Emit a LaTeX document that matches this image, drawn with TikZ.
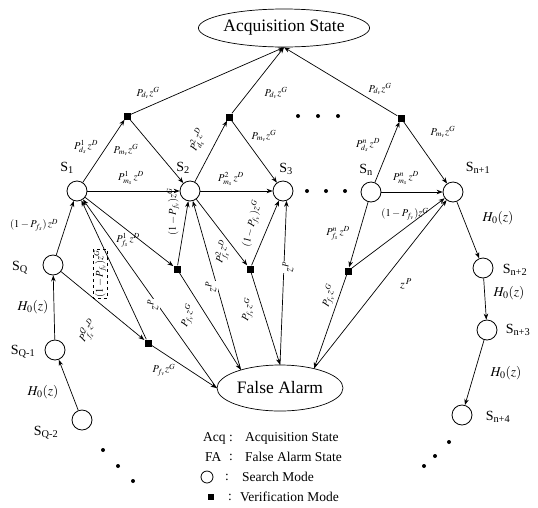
\documentclass[tikz,border=0pt]{standalone}
\usepackage{mathptmx}
\usepackage{fontspec}
\setmainfont{Liberation Serif}
\usetikzlibrary{arrows.meta,shapes.geometric}
\tikzset{
  st/.style={circle,draw,minimum size=20pt,inner sep=0pt,line width=0.8pt},
  vbox/.style={rectangle,fill=black,minimum size=7pt,inner sep=0pt},
  arr/.style={-{Stealth[length=6pt,width=4.5pt]},line width=0.7pt},
  lab/.style={font=\fontsize{10.5}{12}\selectfont,inner sep=1pt},
  wlab/.style={font=\fontsize{12}{13}\selectfont,inner sep=1pt,fill=white},
  slab/.style={font=\fontsize{14}{16}\selectfont,inner sep=0pt},
  hlab/.style={font=\fontsize{13.5}{16}\selectfont,inner sep=0pt},
  bigdot/.style={circle,fill=black,minimum size=4pt,inner sep=0pt},
  leg/.style={font=\fontsize{13.5}{15}\selectfont,anchor=west,inner sep=0pt},
  bigell/.style={ellipse,draw,line width=0.7pt,inner sep=0pt,font=\fontsize{17.5}{20}\selectfont},
}
\begin{document}
\begin{tikzpicture}[x=1pt,y={(0pt,-1pt)}]
\useasboundingbox (0,0) rectangle (538,507);
% big states
\node[bigell,minimum width=168pt,minimum height=38pt] (acq) at (284,28) {Acquisition State};
\node[bigell,minimum width=126pt,minimum height=46pt] (fa) at (280,388) {False Alarm};
% search states
\node[st] (S1) at (77,191) {};
\node[st] (S2) at (190,191) {};
\node[st] (S3) at (283,191) {};
\node[st] (Sn) at (371,192) {};
\node[st] (Sn1) at (453,192) {};
\node[st] (Sn2) at (483,268) {};
\node[st] (Sn3) at (487,330) {};
\node[st] (Sn4) at (462,415) {};
\node[st] (SQ) at (53,265) {};
\node[st] (SQ1) at (55,350) {};
\node[st] (SQ2) at (82,420) {};
% verification states
\node[vbox] (V1) at (127,116) {};
\node[vbox] (V2) at (229,117) {};
\node[vbox] (Vn) at (401,118) {};
\node[vbox] (A) at (177,269) {};
\node[vbox] (B) at (250,269) {};
\node[vbox] (C) at (348,271) {};
\node[vbox] (Q) at (148,343) {};
% state labels
\node[slab] (lS1) at (67,168) {S\textsubscript{1}};
\node[slab] (lS2) at (183,168) {S\textsubscript{2}};
\node[slab] (lS3) at (286,169) {S\textsubscript{3}};
\node[slab] (lSn) at (366,170) {S\textsubscript{n}};
\node[slab] (lSn1) at (478,168) {S\textsubscript{n+1}};
\node[slab] (lSn2) at (515,270) {S\textsubscript{n+2}};
\node[slab] (lSn3) at (518,330) {S\textsubscript{n+3}};
\node[slab] (lSn4) at (498,417) {S\textsubscript{n+4}};
\node[slab] (lSQ) at (20,268) {S\textsubscript{Q}};
\node[slab] (lSQ1) at (23,352) {S\textsubscript{Q-1}};
\node[slab] (lSQ2) at (46,433) {S\textsubscript{Q-2}};
% dots
\foreach \x/\y [count=\i] in {298/116,318/116,338/116,307/191,326/191,345/191,103/450,118/466,133/481,449/442,435/456,424/466}
  \node[bigdot] (d\i) at (\x,\y) {};
% edges
\draw[arr] (S1) -- (V1);
\draw[arr] (V1) -- (S2);
\draw[arr] (V1) -- (acq.south);
\draw[arr] (S1) -- (S2);
\draw[arr] (S2) -- (V2);
\draw[arr] (V2) -- (S3);
\draw[arr] (V2) -- (acq.south);
\draw[arr] (S2) -- (S3);
\draw[arr] (Sn) -- (Vn);
\draw[arr] (Vn) -- (Sn1);
\draw[arr] (Vn) -- (acq.south);
\draw[arr] (Sn) -- (Sn1);
\draw[arr] (Sn1) -- (Sn2);
\draw[arr] (Sn2) -- (Sn3);
\draw[arr] (Sn3) -- (Sn4);
\draw[arr] (SQ2) -- (SQ1);
\draw[arr] (SQ1) -- (SQ);
\draw[arr] (SQ) -- (S1);
\draw[arr] (SQ) -- (Q);
\draw[arr] (Q) -- (S1);
\draw[arr] (Q) -- (fa.west);
\draw[arr] (fa.west) -- (S1);
\draw[arr] (S1) -- (A);
\draw[arr] (A) -- (S2);
\draw[arr] (A) -- (fa.155);
\draw[arr] (fa.155) -- (S2);
\draw[arr] (S2) -- (B);
\draw[arr] (B) -- (S3);
\draw[arr] (B) -- (fa.north);
\draw[arr] (fa.north) -- (S3.-70);
\draw[arr] (Sn) -- (C);
\draw[arr] (C) -- (Sn1);
\draw[arr] (C) -- (fa.30);
\draw[arr] (fa.30) -- (Sn1);
% upright labels
\node[lab] (e1) at (86,147) {$P^{1}_{d_s}\,z^{D}$};
\node[lab] (e2) at (126,150) {$P_{m_v}z^{G}$};
\node[lab] (e3) at (148,93) {$P_{d_v}z^{G}$};
\node[lab] (e4) at (131,178) {$P^{1}_{m_s}\,z^{D}$};
\node[lab] (e5) at (264,136) {$P_{m_v}z^{G}$};
\node[lab] (e6) at (276,93) {$P_{d_v}z^{G}$};
\node[lab] (e7) at (231,179) {$P^{2}_{m_s}\,z^{D}$};
\node[lab] (e8) at (368,145) {$P^{n}_{d_s}\,z^{D}$};
\node[lab] (e9) at (443,132) {$P_{m_v}z^{G}$};
\node[lab] (e10) at (380,89) {$P_{d_v}z^{G}$};
\node[lab] (e11) at (406,178) {$P^{n}_{m_s}\,z^{D}$};
\node[lab] (e12) at (128,240) {$P^{1}_{f_s}\,z^{D}$};
\node[lab] (e13) at (338,233) {$P^{n}_{f_s}\,z^{D}$};
\node[lab] (e14) at (405,214) {$(1-P_{f_v})z^{G}$};
\node[lab] (e15) at (34,225) {$(1-P_{f_s})\,z^{D}$};
\node[lab] (e16) at (164,370) {$P_{f_v}z^{G}$};
\node[lab,font=\fontsize{12}{13}\selectfont] (e17) at (406,284) {$z^{\,P}$};
% rotated labels
\node[lab,rotate=70] (r1) at (198,140) {$P^{2}_{d_s}\,z^{D}$};
\node[lab,rotate=90] (r2) at (173,212) {$(1-P_{f_v})z^{G}$};
\node[lab,rotate=75] (r3) at (252,224) {$(1-P_{f_v})z^{G}$};
\node[lab,rotate=75] (r4) at (223,252) {$P^{2}_{f_s}\,z^{D}$};
\node[lab,rotate=90,draw,dashed,line width=0.3pt] (r5) at (100,274) {$(1-P_{f_v})z^{G}$};
\node[lab,rotate=60] (r6) at (88,331) {$P^{Q}_{f_s}\,z^{D}$};
\node[lab,rotate=70] (r7) at (188,316) {$P_{f_v}z^{G}$};
\node[lab,rotate=75] (r8) at (248,310) {$P_{f_v}z^{G}$};
\node[lab,rotate=72] (r9) at (329,296) {$P_{f_v}z^{G}$};
\node[wlab,rotate=90] (r10) at (153,305) {$z^{P}$};
\node[wlab,rotate=90] (r11) at (211,287) {$z^{P}$};
\node[wlab,rotate=90] (r12) at (288,267) {$z^{P}$};
% H0 labels
\node[hlab] (h1) at (498,218) {$H_0(z)$};
\node[hlab] (h2) at (509,293) {$H_0(z)$};
\node[hlab] (h3) at (506,373) {$H_0(z)$};
\node[hlab] (h4) at (33,307) {$H_0(z)$};
\node[hlab] (h5) at (43,392) {$H_0(z)$};
% legend
\node[leg] (g1) at (203,438) {Acq :};
\node[leg] (g1t) at (245,438) {Acquisition State};
\node[leg] (g2) at (205,457) {FA};
\node[leg] (g2c) at (229,457) {:};
\node[leg] (g2t) at (245,457) {False Alarm State};
\node[circle,draw,line width=0.8pt,minimum size=12pt,inner sep=0pt] (g3s) at (207,477) {};
\node[leg] (g3c) at (225,477) {:};
\node[leg] (g3t) at (242,477) {Search Mode};
\node[vbox,minimum size=6pt] (g4s) at (211,497) {};
\node[leg] (g4c) at (228,497) {:};
\node[leg] (g4t) at (240,497) {Verification Mode};
\end{tikzpicture}
\end{document}
